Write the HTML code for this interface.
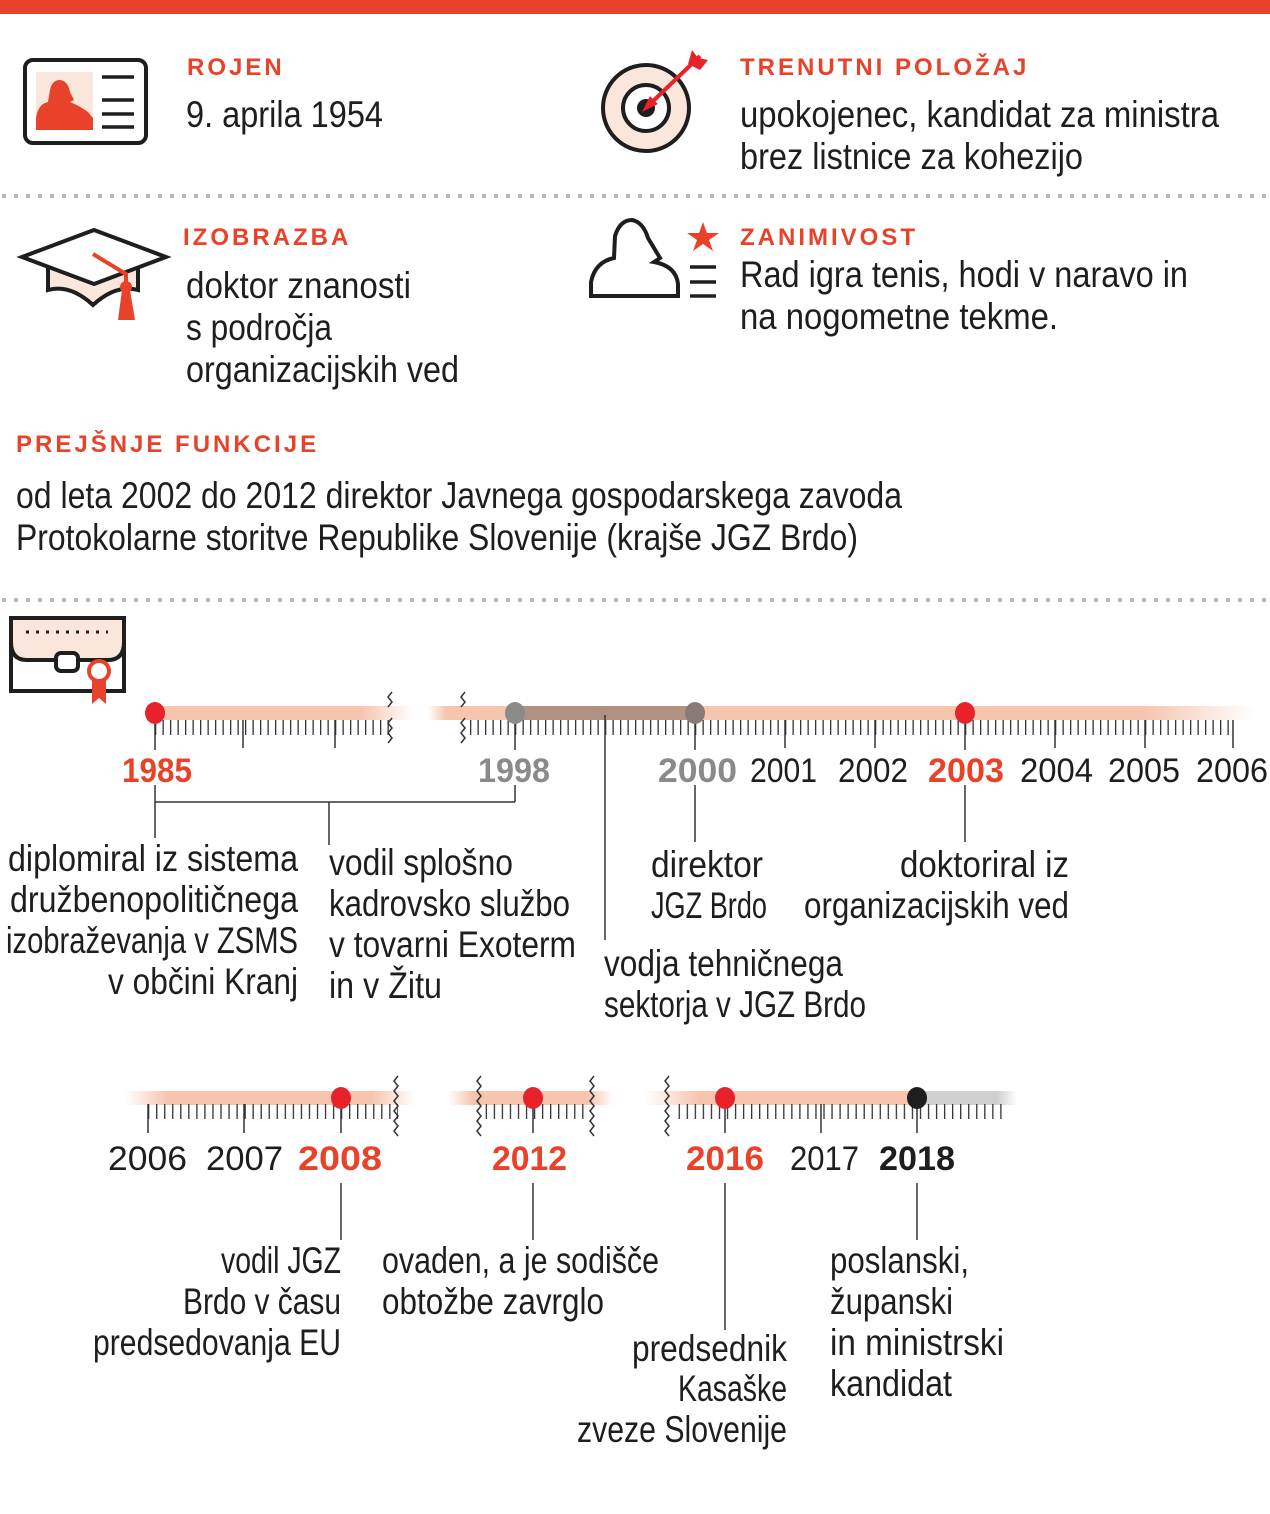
<!DOCTYPE html>
<html><head><meta charset="utf-8"><style>
html,body{margin:0;padding:0;background:#fff;}
svg{display:block;}
.t{font-family:"Liberation Sans Narrow","Liberation Sans",sans-serif;font-size:37px;fill:#1e1e1e;}
.h{font-family:"Liberation Sans",sans-serif;font-size:24px;font-weight:bold;fill:#e8432a;letter-spacing:3px;}
.y{font-family:"Liberation Sans Narrow","Liberation Sans",sans-serif;font-size:34px;fill:#1e1e1e;}
.yb{font-family:"Liberation Sans Narrow","Liberation Sans",sans-serif;font-size:34px;font-weight:bold;}
</style></head><body>
<svg width="1270" height="1514" viewBox="0 0 1270 1514" xmlns="http://www.w3.org/2000/svg">
<defs>
<pattern id="tk1" x="155" y="0" width="7.5" height="1514" patternUnits="userSpaceOnUse"><rect x="0" y="720" width="1.3" height="15" fill="#333"/></pattern>
<pattern id="tk2" x="148" y="0" width="8.04" height="1514" patternUnits="userSpaceOnUse"><rect x="0" y="1104" width="1.3" height="15" fill="#333"/></pattern>
<linearGradient id="fR" x1="0" x2="1"><stop offset="0" stop-color="#f7c4ae" stop-opacity="1"/><stop offset="0.8" stop-color="#f7c4ae"/><stop offset="1" stop-color="#f7c4ae" stop-opacity="0"/></linearGradient>
<linearGradient id="fL" x1="0" x2="1"><stop offset="0" stop-color="#f7c4ae" stop-opacity="0"/><stop offset="0.2" stop-color="#f7c4ae"/><stop offset="1" stop-color="#f7c4ae"/></linearGradient>
<linearGradient id="fLR" x1="0" x2="1"><stop offset="0" stop-color="#f7c4ae" stop-opacity="0"/><stop offset="0.15" stop-color="#f7c4ae"/><stop offset="0.85" stop-color="#f7c4ae"/><stop offset="1" stop-color="#f7c4ae" stop-opacity="0"/></linearGradient>
<linearGradient id="gR" x1="0" x2="1"><stop offset="0" stop-color="#cfcfcf"/><stop offset="0.8" stop-color="#cfcfcf"/><stop offset="1" stop-color="#cfcfcf" stop-opacity="0"/></linearGradient>
</defs>
<rect x="0" y="0" width="1270" height="14" fill="#e8432a"/>
<line x1="2" y1="196" x2="1270" y2="196" stroke="#b8b8b8" stroke-width="4" stroke-dasharray="4 8"/>
<line x1="2" y1="600" x2="1270" y2="600" stroke="#b8b8b8" stroke-width="4" stroke-dasharray="4 8"/>

<rect x="25" y="60" width="121" height="83" rx="8" fill="#fff" stroke="#1e1e1e" stroke-width="4"/>
<rect x="36" y="72" width="57" height="58" fill="#fbe6dc"/>
<path d="M36 130 L36 118 Q38 104 48 102 L50 90 Q52 80 60 80 Q68 81 70 92 L74 100 L70 102 Q80 106 88 112 L93 118 L93 130Z" fill="#e8432a"/>
<g stroke="#1e1e1e" stroke-width="3.5"><line x1="102" y1="77" x2="134" y2="77"/><line x1="102" y1="100" x2="134" y2="100"/><line x1="102" y1="114" x2="134" y2="114"/><line x1="102" y1="127" x2="134" y2="127"/></g>
<text class="h" x="187" y="75">ROJEN</text>
<text class="t" x="186" y="127" textLength="197" lengthAdjust="spacingAndGlyphs">9. aprila 1954</text>

<circle cx="646" cy="108" r="43" fill="#fbe6dc" stroke="#1e1e1e" stroke-width="4"/>
<circle cx="646" cy="108" r="23" fill="#fff" stroke="#1e1e1e" stroke-width="4"/>
<circle cx="646" cy="108" r="9" fill="#1e1e1e"/>
<line x1="648" y1="106" x2="700" y2="56" stroke="#e8222a" stroke-width="4"/>
<path d="M642 112 L650 96 L658 104Z" fill="#e8222a"/>
<path d="M688 64 L692 50 L698 58 L708 60 L700 70Z" fill="#e8222a"/>
<text class="h" x="740" y="75">TRENUTNI POLOŽAJ</text>
<text class="t" x="740" y="127" textLength="479" lengthAdjust="spacingAndGlyphs">upokojenec, kandidat za ministra</text>
<text class="t" x="740" y="169" textLength="343" lengthAdjust="spacingAndGlyphs">brez listnice za kohezijo</text>

<path d="M48 263 L48 290 Q70 284 93 305 Q116 284 138 290 L138 263Z" fill="#fbe6dc" stroke="#1e1e1e" stroke-width="4"/>
<path d="M22 257 L94 230 L166 257 L94 284Z" fill="#fff" stroke="#1e1e1e" stroke-width="4"/>
<path d="M93 254 L126 274 L126 284" stroke="#e8432a" stroke-width="4" fill="none"/>
<circle cx="126" cy="287" r="6" fill="#e8432a"/>
<path d="M122 290 L130 290 L135 320 L118 320Z" fill="#e8432a"/>
<text class="h" x="183" y="245">IZOBRAZBA</text>
<text class="t" x="186" y="298" textLength="225" lengthAdjust="spacingAndGlyphs">doktor znanosti</text>
<text class="t" x="186" y="340" textLength="146" lengthAdjust="spacingAndGlyphs">s področja</text>
<text class="t" x="186" y="382" textLength="273" lengthAdjust="spacingAndGlyphs">organizacijskih ved</text>

<path d="M591 296 L591 282 Q595 262 614 258 L615 236 Q620 220 632 220 Q643 222 648 238 L660 258 L654 262 Q676 266 678 284 L678 296Z" fill="#fff" stroke="#1e1e1e" stroke-width="4"/>
<path d="M703 222 L707 233 L719 233 L709 240 L713 251 L703 244 L693 251 L697 240 L687 233 L699 233Z" fill="#e8432a"/>
<g stroke="#1e1e1e" stroke-width="3.5"><line x1="690" y1="267" x2="716" y2="267"/><line x1="690" y1="282" x2="716" y2="282"/><line x1="690" y1="296" x2="716" y2="296"/></g>
<text class="h" x="740" y="245">ZANIMIVOST</text>
<text class="t" x="740" y="287" textLength="448" lengthAdjust="spacingAndGlyphs">Rad igra tenis, hodi v naravo in</text>
<text class="t" x="740" y="329" textLength="318" lengthAdjust="spacingAndGlyphs">na nogometne tekme.</text>

<text class="h" x="16" y="452">PREJŠNJE FUNKCIJE</text>
<text class="t" x="16" y="508" textLength="886" lengthAdjust="spacingAndGlyphs">od leta 2002 do 2012 direktor Javnega gospodarskega zavoda</text>
<text class="t" x="16" y="550" textLength="842" lengthAdjust="spacingAndGlyphs">Protokolarne storitve Republike Slovenije (krajše JGZ Brdo)</text>

<rect x="11" y="618" width="113" height="73" fill="#fff" stroke="#1e1e1e" stroke-width="4"/>
<path d="M11 618 L124 618 L124 642 Q124 660 108 660 L27 660 Q11 660 11 642Z" fill="#fbe6dc" stroke="#1e1e1e" stroke-width="4"/>
<line x1="26" y1="632" x2="108" y2="632" stroke="#1e1e1e" stroke-width="3" stroke-dasharray="3 7"/>
<rect x="56" y="653" width="22" height="18" rx="5" fill="#fff" stroke="#1e1e1e" stroke-width="4"/>
<path d="M92 680 L92 704 L99 698 L106 704 L106 680Z" fill="#e8432a"/>
<circle cx="99" cy="671" r="10" fill="#fff" stroke="#e8432a" stroke-width="4"/>

<rect x="155" y="706" width="258" height="14" fill="url(#fR)"/>
<rect x="428" y="706" width="90" height="14" fill="url(#fL)"/>
<rect x="515" y="706" width="180" height="14" fill="#b09182"/>
<rect x="695" y="706" width="560" height="14" fill="url(#fR)"/>
<rect x="155" y="720" width="234" height="15" fill="url(#tk1)"/>
<rect x="470" y="720" width="765" height="15" fill="url(#tk1)"/>
<g stroke="#333" stroke-width="1.5" fill="none">
<path d="M392 692 l-4 5 l4 5 l-4 5"/><path d="M392 718 l-4 5 l4 5 l-4 5 l4 5 l-4 5"/>
<path d="M465 692 l-4 5 l4 5 l-4 5"/><path d="M465 718 l-4 5 l4 5 l-4 5 l4 5 l-4 5"/>
</g>
<g stroke="#333" stroke-width="1.5">
<line x1="155" y1="720" x2="155" y2="750"/><line x1="243" y1="720" x2="243" y2="748"/><line x1="335" y1="720" x2="335" y2="748"/>
<line x1="515" y1="720" x2="515" y2="750"/>
<line x1="695" y1="720" x2="695" y2="750"/><line x1="785" y1="720" x2="785" y2="748"/><line x1="875" y1="720" x2="875" y2="748"/><line x1="965" y1="720" x2="965" y2="750"/><line x1="1055" y1="720" x2="1055" y2="748"/><line x1="1145" y1="720" x2="1145" y2="748"/><line x1="1233" y1="720" x2="1233" y2="748"/>
<line x1="605" y1="715" x2="605" y2="940"/>
<line x1="155" y1="785" x2="155" y2="838"/><line x1="155" y1="802" x2="515" y2="802"/><line x1="515" y1="785" x2="515" y2="802"/><line x1="329" y1="802" x2="329" y2="845"/>
<line x1="695" y1="785" x2="695" y2="842"/><line x1="965" y1="785" x2="965" y2="842"/>
</g>
<ellipse cx="155" cy="713" rx="10" ry="11" fill="#e8222a"/>
<ellipse cx="515" cy="713" rx="10" ry="11" fill="#8a8a8a"/>
<ellipse cx="695" cy="713" rx="10" ry="11" fill="#8a7a75"/>
<ellipse cx="965" cy="713" rx="10" ry="11" fill="#e8222a"/>
<text class="yb" x="122" y="782" fill="#e8432a" textLength="70" lengthAdjust="spacingAndGlyphs">1985</text>
<text class="yb" x="478" y="782" fill="#8a8a8a" textLength="72" lengthAdjust="spacingAndGlyphs">1998</text>
<text class="yb" x="658" y="782" fill="#8a8a8a" textLength="79" lengthAdjust="spacingAndGlyphs">2000</text>
<text class="y" x="750" y="782" textLength="67" lengthAdjust="spacingAndGlyphs">2001</text>
<text class="y" x="838" y="782" textLength="70" lengthAdjust="spacingAndGlyphs">2002</text>
<text class="yb" x="928" y="782" fill="#e8432a" textLength="76" lengthAdjust="spacingAndGlyphs">2003</text>
<text class="y" x="1020" y="782" textLength="73" lengthAdjust="spacingAndGlyphs">2004</text>
<text class="y" x="1108" y="782" textLength="72" lengthAdjust="spacingAndGlyphs">2005</text>
<text class="y" x="1196" y="782" textLength="72" lengthAdjust="spacingAndGlyphs">2006</text>

<text class="t" x="8" y="871" textLength="290" lengthAdjust="spacingAndGlyphs">diplomiral iz sistema</text>
<text class="t" x="10" y="912" textLength="288" lengthAdjust="spacingAndGlyphs">družbenopolitičnega</text>
<text class="t" x="6" y="953" textLength="292" lengthAdjust="spacingAndGlyphs">izobraževanja v ZSMS</text>
<text class="t" x="108" y="994" textLength="190" lengthAdjust="spacingAndGlyphs">v občini Kranj</text>
<text class="t" x="329" y="875" textLength="184" lengthAdjust="spacingAndGlyphs">vodil splošno</text>
<text class="t" x="329" y="916" textLength="241" lengthAdjust="spacingAndGlyphs">kadrovsko službo</text>
<text class="t" x="329" y="957" textLength="247" lengthAdjust="spacingAndGlyphs">v tovarni Exoterm</text>
<text class="t" x="329" y="998" textLength="113" lengthAdjust="spacingAndGlyphs">in v Žitu</text>
<text class="t" x="651" y="877" textLength="112" lengthAdjust="spacingAndGlyphs">direktor</text>
<text class="t" x="651" y="918" textLength="116" lengthAdjust="spacingAndGlyphs">JGZ Brdo</text>
<text class="t" x="900" y="877" textLength="169" lengthAdjust="spacingAndGlyphs">doktoriral iz</text>
<text class="t" x="804" y="918" textLength="265" lengthAdjust="spacingAndGlyphs">organizacijskih ved</text>
<text class="t" x="604" y="976" textLength="239" lengthAdjust="spacingAndGlyphs">vodja tehničnega</text>
<text class="t" x="604" y="1017" textLength="262" lengthAdjust="spacingAndGlyphs">sektorja v JGZ Brdo</text>

<rect x="125" y="1091" width="290" height="14" fill="url(#fLR)"/>
<rect x="448" y="1091" width="165" height="14" fill="url(#fLR)"/>
<rect x="645" y="1091" width="275" height="14" fill="url(#fL)"/>
<rect x="917" y="1091" width="100" height="14" fill="url(#gR)"/>
<rect x="148" y="1104" width="250" height="15" fill="url(#tk2)"/>
<rect x="485" y="1104" width="105" height="15" fill="url(#tk2)"/>
<rect x="676" y="1104" width="330" height="15" fill="url(#tk2)"/>
<g stroke="#333" stroke-width="1.5" fill="none">
<path d="M398 1076 l-4 5 l4 5 l-4 5 l4 5 l-4 5 l4 5 l-4 5 l4 5 l-4 5 l4 5 l-4 5 l4 5"/>
<path d="M481 1076 l-4 5 l4 5 l-4 5 l4 5 l-4 5 l4 5 l-4 5 l4 5 l-4 5 l4 5 l-4 5 l4 5"/>
<path d="M594 1076 l-4 5 l4 5 l-4 5 l4 5 l-4 5 l4 5 l-4 5 l4 5 l-4 5 l4 5 l-4 5 l4 5"/>
<path d="M669 1076 l-4 5 l4 5 l-4 5 l4 5 l-4 5 l4 5 l-4 5 l4 5 l-4 5 l4 5 l-4 5 l4 5"/>
</g>
<g stroke="#333" stroke-width="1.5">
<line x1="148" y1="1104" x2="148" y2="1133"/><line x1="244" y1="1104" x2="244" y2="1133"/><line x1="341" y1="1104" x2="341" y2="1133"/>
<line x1="533" y1="1104" x2="533" y2="1133"/>
<line x1="725" y1="1104" x2="725" y2="1133"/><line x1="821" y1="1104" x2="821" y2="1133"/><line x1="917" y1="1104" x2="917" y2="1133"/>
<line x1="341" y1="1183" x2="341" y2="1240"/><line x1="533" y1="1183" x2="533" y2="1240"/><line x1="725" y1="1183" x2="725" y2="1330"/><line x1="917" y1="1183" x2="917" y2="1240"/>
</g>
<ellipse cx="341" cy="1098" rx="10" ry="11" fill="#e8222a"/>
<ellipse cx="533" cy="1098" rx="10" ry="11" fill="#e8222a"/>
<ellipse cx="725" cy="1098" rx="10" ry="11" fill="#e8222a"/>
<ellipse cx="917" cy="1098" rx="10" ry="11" fill="#1e1e1e"/>
<text class="y" x="108" y="1170" textLength="79" lengthAdjust="spacingAndGlyphs">2006</text>
<text class="y" x="206" y="1170" textLength="77" lengthAdjust="spacingAndGlyphs">2007</text>
<text class="yb" x="298" y="1170" fill="#e8432a" textLength="84" lengthAdjust="spacingAndGlyphs">2008</text>
<text class="yb" x="492" y="1170" fill="#e8432a" textLength="75" lengthAdjust="spacingAndGlyphs">2012</text>
<text class="yb" x="686" y="1170" fill="#e8432a" textLength="78" lengthAdjust="spacingAndGlyphs">2016</text>
<text class="y" x="790" y="1170" textLength="69" lengthAdjust="spacingAndGlyphs">2017</text>
<text class="yb" x="879" y="1170" fill="#1e1e1e" textLength="76" lengthAdjust="spacingAndGlyphs">2018</text>

<text class="t" x="221" y="1273" textLength="120" lengthAdjust="spacingAndGlyphs">vodil JGZ</text>
<text class="t" x="183" y="1314" textLength="158" lengthAdjust="spacingAndGlyphs">Brdo v času</text>
<text class="t" x="93" y="1355" textLength="248" lengthAdjust="spacingAndGlyphs">predsedovanja EU</text>
<text class="t" x="382" y="1273" textLength="277" lengthAdjust="spacingAndGlyphs">ovaden, a je sodišče</text>
<text class="t" x="382" y="1314" textLength="222" lengthAdjust="spacingAndGlyphs">obtožbe zavrglo</text>
<text class="t" x="632" y="1361" textLength="155" lengthAdjust="spacingAndGlyphs">predsednik</text>
<text class="t" x="678" y="1401" textLength="109" lengthAdjust="spacingAndGlyphs">Kasaške</text>
<text class="t" x="577" y="1442" textLength="210" lengthAdjust="spacingAndGlyphs">zveze Slovenije</text>
<text class="t" x="830" y="1273" textLength="139" lengthAdjust="spacingAndGlyphs">poslanski,</text>
<text class="t" x="830" y="1314" textLength="123" lengthAdjust="spacingAndGlyphs">županski</text>
<text class="t" x="830" y="1355" textLength="174" lengthAdjust="spacingAndGlyphs">in ministrski</text>
<text class="t" x="830" y="1396" textLength="122" lengthAdjust="spacingAndGlyphs">kandidat</text>
</svg>
</body></html>
